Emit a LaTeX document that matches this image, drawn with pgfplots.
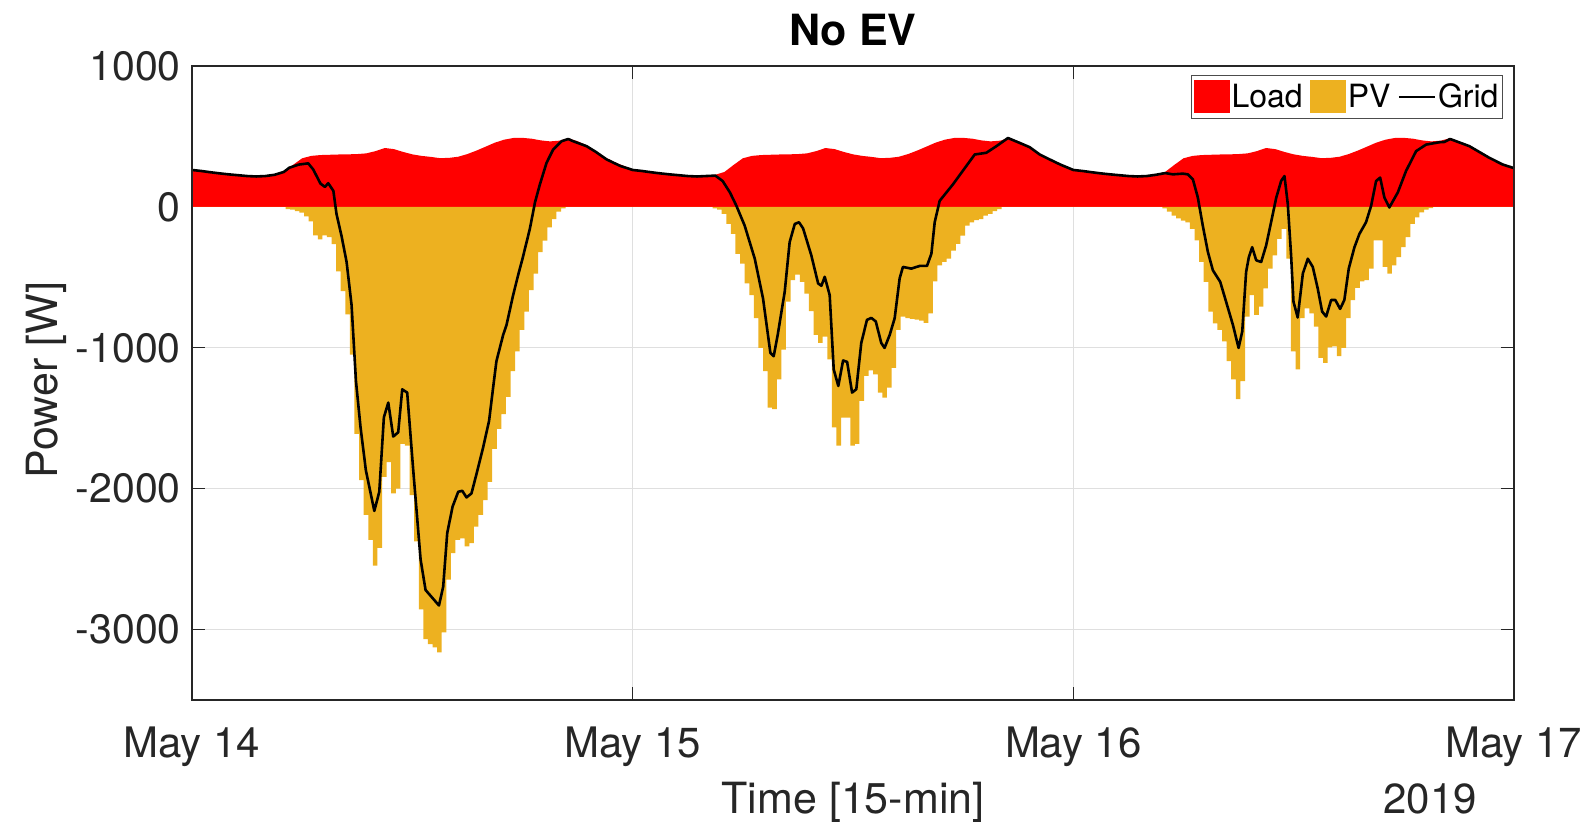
\documentclass[border=0pt]{standalone}
\usepackage{fontspec}
\setmainfont{TeX Gyre Heros}
\usepackage{pgfplots}
\pgfplotsset{compat=1.18}
\definecolor{loadred}{RGB}{255,0,0}
\definecolor{pvgold}{RGB}{237,177,32}
\definecolor{axgray}{RGB}{38,38,38}
\definecolor{gridgray}{RGB}{223,223,223}
\pgfplotsset{
  squareimg/.style={legend image code/.code={\path[##1] (0pt,-8pt) rectangle (18pt,8.5pt);}},
  dashimg/.style={legend image code/.code={\draw[##1] (0pt,0pt) -- (18pt,0pt);}},
}

\begin{document}
\begin{tikzpicture}
\useasboundingbox (-96pt,-60.5pt) rectangle (700.5pt,350pt);
\begin{axis}[
  at={(0pt,0pt)}, anchor=south west,
  scale only axis, width=661pt, height=317pt,
  xmin=0, xmax=72, ymin=-3500, ymax=1000,
  xtick={0,24,48,72}, xticklabels={May 14,May 15,May 16,May 17},
  ytick={-3000,-2000,-1000,0,1000},
  yticklabels={-3000,-2000,-1000,0,1000},
  tick align=inside, major tick length=6.5pt,
  tick style={axgray, line width=0.5pt},
  grid=major, major grid style={gridgray, line width=0.6pt},
  axis line style={axgray, line width=0.6pt},
  xticklabel style={font=\fontsize{21}{25}\selectfont, text=axgray,
    anchor=base, inner sep=0pt, yshift=-28.5pt},
  yticklabel style={font=\fontsize{20.5}{25}\selectfont, text=axgray,
    anchor=east, inner sep=0pt, xshift=-5.5pt},
  legend style={
    at={(1,1)}, anchor=north east, xshift=-5.5pt, yshift=-4.5pt,
    draw=black!70, line width=0.5pt, fill=white,
    font=\fontsize{16}{19}\selectfont, text=black,
    inner xsep=1pt, inner ysep=1.5pt,
    nodes={inner xsep=1pt, inner ysep=2.5pt},
    /tikz/every even column/.append style={column sep=2.5pt},
  },
  legend columns=3,
]
% bar baseline at zero
\addplot[black!45, line width=0.6pt, forget plot] coordinates {(0,0) (72,0)};

% household load, same daily profile on each of the three days
\addplot[draw=none, fill=loadred, squareimg]
coordinates {
(0,262) (0.5,255) (1,246) (1.5,238) (2,231) (2.5,225) (3,219) (3.5,216) (4,219) (4.5,228)
(5,248) (5.5,298) (6,345) (6.5,362) (7,368) (7.5,370) (8,372) (8.5,373) (9,375) (9.5,380)
(10,396) (10.5,418) (11,410) (11.5,390) (12,373) (12.5,362) (13,355) (13.5,346) (14,348) (14.5,356)
(15,375) (15.5,400) (16,428) (16.5,456) (17,477) (17.5,489) (18,490) (18.5,484) (19,472) (19.5,465)
(20,470) (20.5,487) (21,466) (21.5,436) (22,392) (22.5,352) (23,318) (23.5,292)
(24,265) (24.5,255) (25,246) (25.5,238) (26,231) (26.5,225) (27,219) (27.5,216) (28,219) (28.5,228)
(29,248) (29.5,298) (30,345) (30.5,362) (31,368) (31.5,370) (32,372) (32.5,373) (33,375) (33.5,380)
(34,396) (34.5,418) (35,410) (35.5,390) (36,373) (36.5,362) (37,355) (37.5,346) (38,348) (38.5,356)
(39,375) (39.5,400) (40,428) (40.5,456) (41,477) (41.5,489) (42,490) (42.5,484) (43,472) (43.5,465)
(44,470) (44.5,487) (45,466) (45.5,436) (46,392) (46.5,352) (47,318) (47.5,292)
(48,265) (48.5,255) (49,246) (49.5,238) (50,231) (50.5,225) (51,219) (51.5,216) (52,219) (52.5,228)
(53,248) (53.5,298) (54,345) (54.5,362) (55,368) (55.5,370) (56,372) (56.5,373) (57,375) (57.5,380)
(58,396) (58.5,418) (59,410) (59.5,390) (60,373) (60.5,362) (61,355) (61.5,346) (62,348) (62.5,356)
(63,375) (63.5,400) (64,428) (64.5,456) (65,477) (65.5,489) (66,490) (66.5,484) (67,472) (67.5,465)
(68,470) (68.5,487) (69,466) (69.5,436) (70,392) (70.5,352) (71,318) (71.5,292) (72,275)
} \closedcycle;
\addlegendentry{Load}

% PV generation, 15-min bars (value holds until the next edge)
\addplot[draw=none, fill=pvgold, const plot, squareimg]
coordinates {
(0,0)
(5.1,-15) (5.35,-20) (5.6,-30) (5.85,-40) (6.1,-67) (6.35,-102) (6.6,-203) (6.85,-231)
(7.1,-203) (7.35,-215) (7.6,-265) (7.85,-457) (8.1,-598) (8.35,-762) (8.6,-1049) (8.85,-1611)
(9.1,-1940) (9.35,-2186) (9.6,-2363) (9.85,-2546) (10.1,-2421) (10.35,-1917) (10.6,-1811) (10.85,-2034)
(11.1,-1999) (11.35,-1682) (11.6,-1694) (11.85,-2046) (12.1,-2374) (12.35,-2856) (12.6,-3068) (12.85,-3103)
(13.1,-3126) (13.35,-3161) (13.6,-3020) (13.85,-2645) (14.1,-2458) (14.35,-2363) (14.6,-2352) (14.85,-2410)
(15.1,-2387) (15.35,-2269) (15.6,-2186) (15.85,-2081) (16.1,-1952) (16.35,-1717) (16.6,-1576) (16.85,-1471)
(17.1,-1349) (17.35,-1166) (17.6,-1026) (17.85,-872) (18.1,-743) (18.35,-591) (18.6,-473) (18.85,-321)
(19.1,-239) (19.35,-145) (19.6,-86) (19.85,-34) (20.1,-11) (20.35,0)
(28.35,-10) (28.6,-20) (28.85,-50) (29.1,-121) (29.35,-191) (29.6,-333) (29.85,-403)
(30.1,-543) (30.35,-626) (30.6,-790) (30.85,-1001) (31.1,-1166) (31.35,-1424) (31.6,-1436) (31.85,-1224)
(32.1,-1013) (32.35,-673) (32.6,-520) (32.85,-480) (33.1,-532) (33.35,-615) (33.6,-740) (33.85,-908)
(34.1,-966) (34.35,-920) (34.6,-1083) (34.85,-1565) (35.1,-1694) (35.35,-1495) (35.6,-1495) (35.85,-1694)
(36.1,-1682) (36.35,-1377) (36.6,-1200) (36.85,-1160) (37.1,-1189) (37.35,-1318) (37.6,-1354) (37.85,-1283)
(38.1,-1142) (38.35,-872) (38.6,-779) (38.85,-790) (39.1,-795) (39.35,-800) (39.6,-807) (39.85,-824)
(40.1,-755) (40.35,-528) (40.6,-415) (40.85,-391) (41.1,-368) (41.35,-310) (41.6,-262) (41.85,-204)
(42.1,-133) (42.35,-109) (42.6,-93) (42.85,-86) (43.1,-62) (43.35,-50) (43.6,-30) (43.85,-15) (44.1,0)
(52.85,-10) (53.1,-34) (53.35,-62) (53.6,-81) (53.85,-98) (54.1,-109) (54.35,-156) (54.6,-238)
(54.85,-391) (55.1,-532) (55.35,-743) (55.6,-826) (55.85,-873) (56.1,-955) (56.35,-1095) (56.6,-1224)
(56.85,-1365) (57.1,-1236) (57.35,-778) (57.6,-626) (57.85,-767) (58.1,-708) (58.35,-579) (58.6,-438)
(58.85,-344) (59.1,-227) (59.35,-156) (59.6,-368) (59.85,-1025) (60.1,-1153) (60.35,-790) (60.6,-720)
(60.85,-755) (61.1,-849) (61.35,-1072) (61.6,-1107) (61.85,-997) (62.1,-990) (62.35,-1060) (62.6,-1001)
(62.85,-790) (63.1,-661) (63.35,-575) (63.6,-528) (63.85,-520) (64.1,-438) (64.35,-238) (64.6,-238)
(64.85,-426) (65.1,-473) (65.35,-415) (65.6,-356) (65.85,-286) (66.1,-215) (66.35,-121) (66.6,-74)
(66.85,-39) (67.1,-20) (67.35,-8) (67.6,0) (72,0)
} \closedcycle;
\addlegendentry{PV}

% net grid exchange
\addplot[black, line width=1.3pt, line join=round, dashimg]
coordinates {
(0,262) (0.5,255) (1,246) (1.5,238) (2,231) (2.5,225) (3,219) (3.5,216) (4,219) (4.5,228)
(5,248) (5.3,278) (5.8,300) (6.33,309) (6.6,266) (7.0,165) (7.24,142) (7.42,168) (7.7,114) (7.87,-50)
(8.15,-210) (8.42,-391) (8.69,-696) (8.93,-1237) (9.18,-1565) (9.47,-1870) (9.93,-2158) (10.2,-2022)
(10.45,-1494) (10.69,-1389) (10.96,-1630) (11.23,-1600) (11.45,-1295) (11.72,-1318) (12.05,-1870)
(12.45,-2503) (12.72,-2719) (13.45,-2829) (13.68,-2696) (13.9,-2316) (14.19,-2128) (14.5,-2022)
(14.72,-2015) (14.95,-2062) (15.22,-2034) (15.5,-1893) (15.86,-1705) (16.18,-1518) (16.4,-1283)
(16.58,-1095) (16.95,-907) (17.13,-838) (17.49,-626) (17.76,-485) (18.0,-368) (18.4,-156) (18.68,32)
(18.95,161) (19.31,313) (19.67,407) (20.13,466) (20.49,482) (20.76,466) (21.49,431) (22,390)
(22.58,337) (23.3,292)
(24,262) (24.5,255) (25,246) (25.5,238) (26,231) (26.5,225) (27,219) (27.5,216) (28,219) (28.5,222)
(28.9,184) (29.3,102) (29.65,8) (30.1,-133) (30.65,-368) (31.1,-650) (31.5,-1036) (31.68,-1060)
(31.9,-908) (32.28,-603) (32.55,-250) (32.83,-121) (33.06,-109) (33.28,-152) (33.73,-344) (34.1,-543)
(34.28,-560) (34.46,-496) (34.73,-626) (34.95,-1154) (35.2,-1271) (35.46,-1090) (35.68,-1100)
(35.95,-1318) (36.18,-1294) (36.45,-966) (36.76,-802) (37.0,-788) (37.24,-813) (37.54,-966)
(37.72,-1001) (38.0,-908) (38.27,-790) (38.54,-508) (38.72,-426) (39.18,-438) (39.63,-419)
(40.03,-419) (40.27,-332) (40.45,-109) (40.72,43) (41.45,161) (42.17,290) (42.63,372) (43.26,384)
(43.81,431) (44.44,489) (45.08,454) (45.62,424) (46.17,372) (46.71,337) (47.3,300)
(48,262) (48.5,255) (49,246) (49.5,238) (50,231) (50.5,225) (51,219) (51.5,216) (52,219) (52.5,228)
(53,240) (53.42,231) (53.97,236) (54.24,231) (54.51,196) (54.78,67) (55.05,-133) (55.33,-321)
(55.6,-450) (56.0,-532) (56.32,-673) (56.69,-837) (57.0,-1001) (57.2,-884) (57.41,-462) (57.56,-356)
(57.74,-286) (57.96,-379) (58.23,-391) (58.5,-274) (58.77,-109) (59.05,65) (59.32,185) (59.5,219)
(59.68,20) (59.86,-344) (59.99,-673) (60.22,-785) (60.5,-473) (60.77,-368) (61.04,-426) (61.31,-579)
(61.55,-743) (61.77,-778) (62.04,-661) (62.27,-661) (62.53,-724) (62.76,-661) (63.0,-438) (63.31,-286)
(63.58,-192) (63.94,-109) (64.22,8) (64.49,184) (64.71,208) (64.94,67) (65.21,-4) (65.67,102)
(66.12,255) (66.67,396) (67.21,442) (67.94,459) (68.21,461) (68.52,482) (69.57,431) (70.66,348)
(71.38,301) (72,275)
};
\addlegendentry{Grid}

% box redrawn above the filled areas
\draw[axgray, line width=0.6pt] (rel axis cs:0,0) rectangle (rel axis cs:1,1);
\end{axis}

% axis descriptions
\node[anchor=base, font=\fontsize{21.5}{25}\bfseries\selectfont] at (330.5pt,327pt) {No EV};
\node[anchor=base, text=axgray, font=\fontsize{21.5}{25}\selectfont] at (330.5pt,-56.5pt) {Time [15-min]};
\node[anchor=base, text=axgray, font=\fontsize{21}{25}\selectfont] at (619pt,-56.5pt) {2019};
\node[rotate=90, anchor=center, text=axgray, font=\fontsize{21.5}{25}\selectfont] at (-73pt,160pt) {Power [W]};
\end{tikzpicture}
\end{document}
